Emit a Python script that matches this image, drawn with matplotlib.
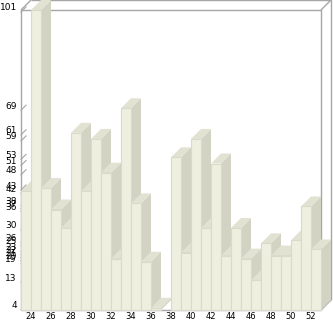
import matplotlib
matplotlib.use("Agg")
import matplotlib.pyplot as plt
from matplotlib.patches import Polygon, Rectangle
from matplotlib.transforms import ScaledTranslation
import numpy as np

# data (category 38 has no value)
categories = list(range(24, 54))
values = [42, 101, 43, 36, 30, 61, 42, 59, 48, 20,
          69, 38, 19, 4, None, 53, 22, 59, 30, 51,
          21, 30, 20, 13, 25, 21, 21, 26, 37, 23]
xlabels = [str(c) for c in range(24, 54, 2)]

front_col = "#efefe0"
side_col = "#d3d3c4"
top_col = "#e2e2d3"
edge_col = "#dadacb"
frame_col = "#a6a6a6"

W, H = 333, 321
fig = plt.figure(figsize=(W / 100, H / 100), dpi=100)
ax = fig.add_axes([21 / W, 11 / H, 310 / W, 310 / H])

vmax = 101
px_per_unit = 3.07
depth_px = 10
ytop = vmax + depth_px / px_per_unit
ybot = ytop - 310 / px_per_unit
dy = depth_px / px_per_unit
dx = 1.0
x0, x1 = categories[0] - 1, categories[-1]

ax.set_xlim(x0, x1 + dx)
ax.set_ylim(ybot, ytop)
for s in ax.spines.values():
    s.set_visible(False)

# 3d frame
kw = dict(color=frame_col, lw=1, clip_on=False, zorder=1, solid_capstyle="butt")
ax.plot([x0, x0, x1, x1, x0], [ybot, vmax, vmax, ybot, ybot], **kw)
ax.plot([x0 + dx, x1 + dx, x1 + dx], [ytop, ytop, ybot + dy], **kw)
ax.plot([x0, x0 + dx], [vmax, ytop], **kw)
ax.plot([x1, x1 + dx], [vmax, ytop], **kw)
ax.plot([x1, x1 + dx], [ybot, ybot + dy], **kw)

tick_vals = sorted(set(v for v in values if v is not None))
for v in tick_vals:
    ax.plot([x0, x0 + 0.5], [v - dy * 0.2, v + dy * 0.3], color=frame_col, lw=0.8,
            zorder=1, clip_on=False)

# bars, left to right so each front face hides the neighbour's side
z = 2
for c, v in zip(categories, values):
    if v is None:
        continue
    side = Polygon([(c, ybot), (c + dx, ybot + dy), (c + dx, v + dy), (c, v)],
                   closed=True, fc=side_col, ec="none", zorder=z, clip_on=False)
    top = Polygon([(c - 1, v), (c, v), (c + dx, v + dy), (c - 1 + dx, v + dy)],
                  closed=True, fc=top_col, ec="none", zorder=z, clip_on=False)
    front = Rectangle((c - 1, ybot), 1, v - ybot, fc=front_col, ec=edge_col,
                      lw=0.8, zorder=z + 0.5, clip_on=False)
    ax.add_patch(side)
    ax.add_patch(top)
    ax.add_patch(front)
    z += 1

ax.set_xticks(range(24, 54, 2))
ax.set_xticklabels(xlabels, fontsize=6, family="DejaVu Sans")
ax.set_yticks(tick_vals)
ax.set_yticklabels([str(v) for v in tick_vals], fontsize=6.5, family="DejaVu Sans")
ax.tick_params(axis="both", length=0)
ax.tick_params(axis="x", pad=1.5)
ax.tick_params(axis="y", pad=3)
for lab in ax.get_yticklabels():
    lab.set_transform(lab.get_transform() + ScaledTranslation(0, 3 / 100, fig.dpi_scale_trans))

fig.savefig("out.png", dpi=100, facecolor="white")
